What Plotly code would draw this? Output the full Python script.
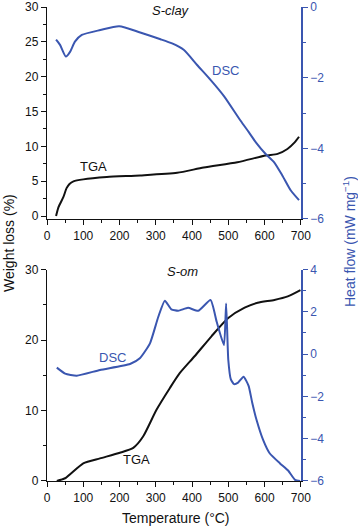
import plotly.graph_objects as go

# ---------- data ----------
# S-clay (top panel)
clay_tga_T = [25, 32, 45, 54, 62, 73, 100, 165, 257, 359, 432, 525, 603, 636, 663, 683, 695]
clay_tga_W = [0.0, 1.3, 2.7, 4.0, 4.6, 4.98, 5.26, 5.59, 5.83, 6.2, 6.97, 7.72, 8.68, 8.92, 9.63, 10.57, 11.38]
clay_dsc_T = [25, 36, 52, 64, 77, 96, 147, 199, 257, 313, 345, 377, 414, 451, 488, 534, 557, 576, 603, 626, 649, 672, 695]
clay_dsc_H = [-0.92, -1.07, -1.40, -1.26, -0.98, -0.79, -0.65, -0.54, -0.72, -0.91, -1.03, -1.21, -1.64, -2.06,
              -2.52, -3.22, -3.55, -3.83, -4.16, -4.39, -4.77, -5.19, -5.47]

# S-om (bottom panel)
om_tga_T = [27, 50, 100, 146, 201, 238, 265, 302, 339, 366, 407, 453, 499, 545, 581, 627, 664, 699]
om_tga_W = [0.0, 0.38, 2.5, 3.2, 4.0, 4.7, 6.3, 10.1, 13.2, 15.3, 17.7, 20.5, 23.1, 24.6, 25.3, 25.7, 26.2, 27.1]
om_dsc_T = [27, 50, 82, 146, 229, 256, 284, 307, 325, 343, 362, 389, 417, 451, 468, 488, 494, 500, 507, 516,
            527, 542, 556, 566, 578, 596, 614, 642, 665, 684, 698]
om_dsc_H = [-0.64, -0.92, -1.02, -0.75, -0.47, -0.2, 0.51, 1.77, 2.53, 2.12, 2.05, 2.19, 2.05, 2.56, 1.53, 0.43,
            2.40, -0.28, -1.2, -1.42, -1.35, -1.07, -1.5, -2.3, -3.12, -4.06, -4.69, -5.16, -5.51, -5.95, -6.0]

x_ticks = [0, 100, 200, 300, 400, 500, 600, 700]

# ---------- style ----------
BLUE = "#3a56b0"
BLACK = "#111111"
FONT = "Liberation Sans, Arial, sans-serif"
W, H = 358, 527

fig = go.Figure()

fig.add_trace(go.Scatter(x=clay_tga_T, y=clay_tga_W, mode="lines", xaxis="x", yaxis="y",
                         line=dict(color=BLACK, width=2, shape="spline", smoothing=0.6)))
fig.add_trace(go.Scatter(x=clay_dsc_T, y=clay_dsc_H, mode="lines", xaxis="x", yaxis="y2",
                         line=dict(color=BLUE, width=2, shape="spline", smoothing=0.6)))
fig.add_trace(go.Scatter(x=om_tga_T, y=om_tga_W, mode="lines", xaxis="x2", yaxis="y3",
                         line=dict(color=BLACK, width=2, shape="spline", smoothing=0.6)))
fig.add_trace(go.Scatter(x=om_dsc_T, y=om_dsc_H, mode="lines", xaxis="x2", yaxis="y4",
                         line=dict(color=BLUE, width=2, shape="spline", smoothing=0.5)))

xd = [47 / W, 301 / W]
top_dom = [1 - 219 / H, 1 - 7 / H]
bot_dom = [1 - 481 / H, 1 - 269.5 / H]

def xaxis(anchor):
    return dict(domain=xd, anchor=anchor, range=[0, 700.5], tickvals=x_ticks, showgrid=False, zeroline=False,
                automargin=False, ticklabeloverflow="allow",
                showline=True, linecolor=BLACK, linewidth=1.3, ticks="outside", ticklen=5, tickcolor=BLACK,
                minor=dict(dtick=50, ticks="outside", ticklen=3, tickcolor=BLACK),
                tickfont=dict(size=12, color=BLACK, family=FONT))

def yleft(dom, rng, dtick, minor, anchor):
    return dict(domain=dom, anchor=anchor, range=rng, dtick=dtick, tick0=0, showgrid=False, zeroline=False,
                automargin=False, ticklabeloverflow="allow",
                showline=True, linecolor=BLACK, linewidth=1.3, ticks="outside", ticklen=5, tickcolor=BLACK,
                minor=dict(dtick=minor, ticks="outside", ticklen=3, tickcolor=BLACK),
                tickfont=dict(size=12, color=BLACK, family=FONT))

def yright(over, rng, anchor):
    return dict(overlaying=over, side="right", anchor=anchor, range=rng, dtick=2, tick0=0, showgrid=False,
                automargin=False, ticklabeloverflow="allow",
                zeroline=False, showline=True, linecolor=BLUE, linewidth=1.5, ticks="outside", ticklen=5,
                tickcolor=BLUE, minor=dict(dtick=1, ticks="outside", ticklen=3, tickcolor=BLUE),
                tickfont=dict(size=12, color=BLUE, family=FONT))

fig.update_layout(
    template="none",
    width=W, height=H, margin=dict(l=0, r=0, t=0, b=0, pad=0),
    paper_bgcolor="white", plot_bgcolor="white", showlegend=False,
    font=dict(family=FONT, size=12, color=BLACK),
    xaxis=xaxis("y"),
    yaxis=yleft(top_dom, [-0.43, 30.02], 5, 2.5, "x"),
    yaxis2=yright("y", [-6.003, 0.003], "x"),
    xaxis2=xaxis("y3"),
    yaxis3=yleft(bot_dom, [-0.01, 30.02], 10, 5, "x2"),
    yaxis4=yright("y3", [-6.005, 4.005], "x2"),
)

ann = [
    dict(x=343, y=29.5, xref="x", yref="y", text="<i>S-clay</i>", font=dict(size=13, color=BLACK)),
    dict(x=492, y=20.9, xref="x", yref="y", text="DSC", font=dict(size=13, color=BLUE)),
    dict(x=127, y=7.15, xref="x", yref="y", text="TGA", font=dict(size=13, color=BLACK)),
    dict(x=375, y=29.7, xref="x2", yref="y3", text="<i>S-om</i>", font=dict(size=13, color=BLACK)),
    dict(x=180, y=17.5, xref="x2", yref="y3", text="DSC", font=dict(size=13, color=BLUE)),
    dict(x=247, y=3.0, xref="x2", yref="y3", text="TGA", font=dict(size=13, color=BLACK)),
    dict(x=9 / W, y=1 - 243 / H, xref="paper", yref="paper", text="Weight loss (%)", textangle=-90,
         font=dict(size=14, color=BLACK)),
    dict(x=349 / W, y=1 - 242 / H, xref="paper", yref="paper", text="Heat flow (mW mg<sup>−1</sup>)",
         textangle=-90, font=dict(size=14, color=BLUE)),
    dict(x=176 / W, y=1 - 518 / H, xref="paper", yref="paper", text="Temperature (°C)",
         font=dict(size=14, color=BLACK)),
]
for a in ann:
    a.update(showarrow=False, xanchor="center", yanchor="middle")
    a["font"]["family"] = FONT
fig.update_layout(annotations=ann)

fig.write_html("out.html", config={"displayModeBar": False},
               post_script="document.body.style.margin='0';document.body.style.overflow='hidden';")
